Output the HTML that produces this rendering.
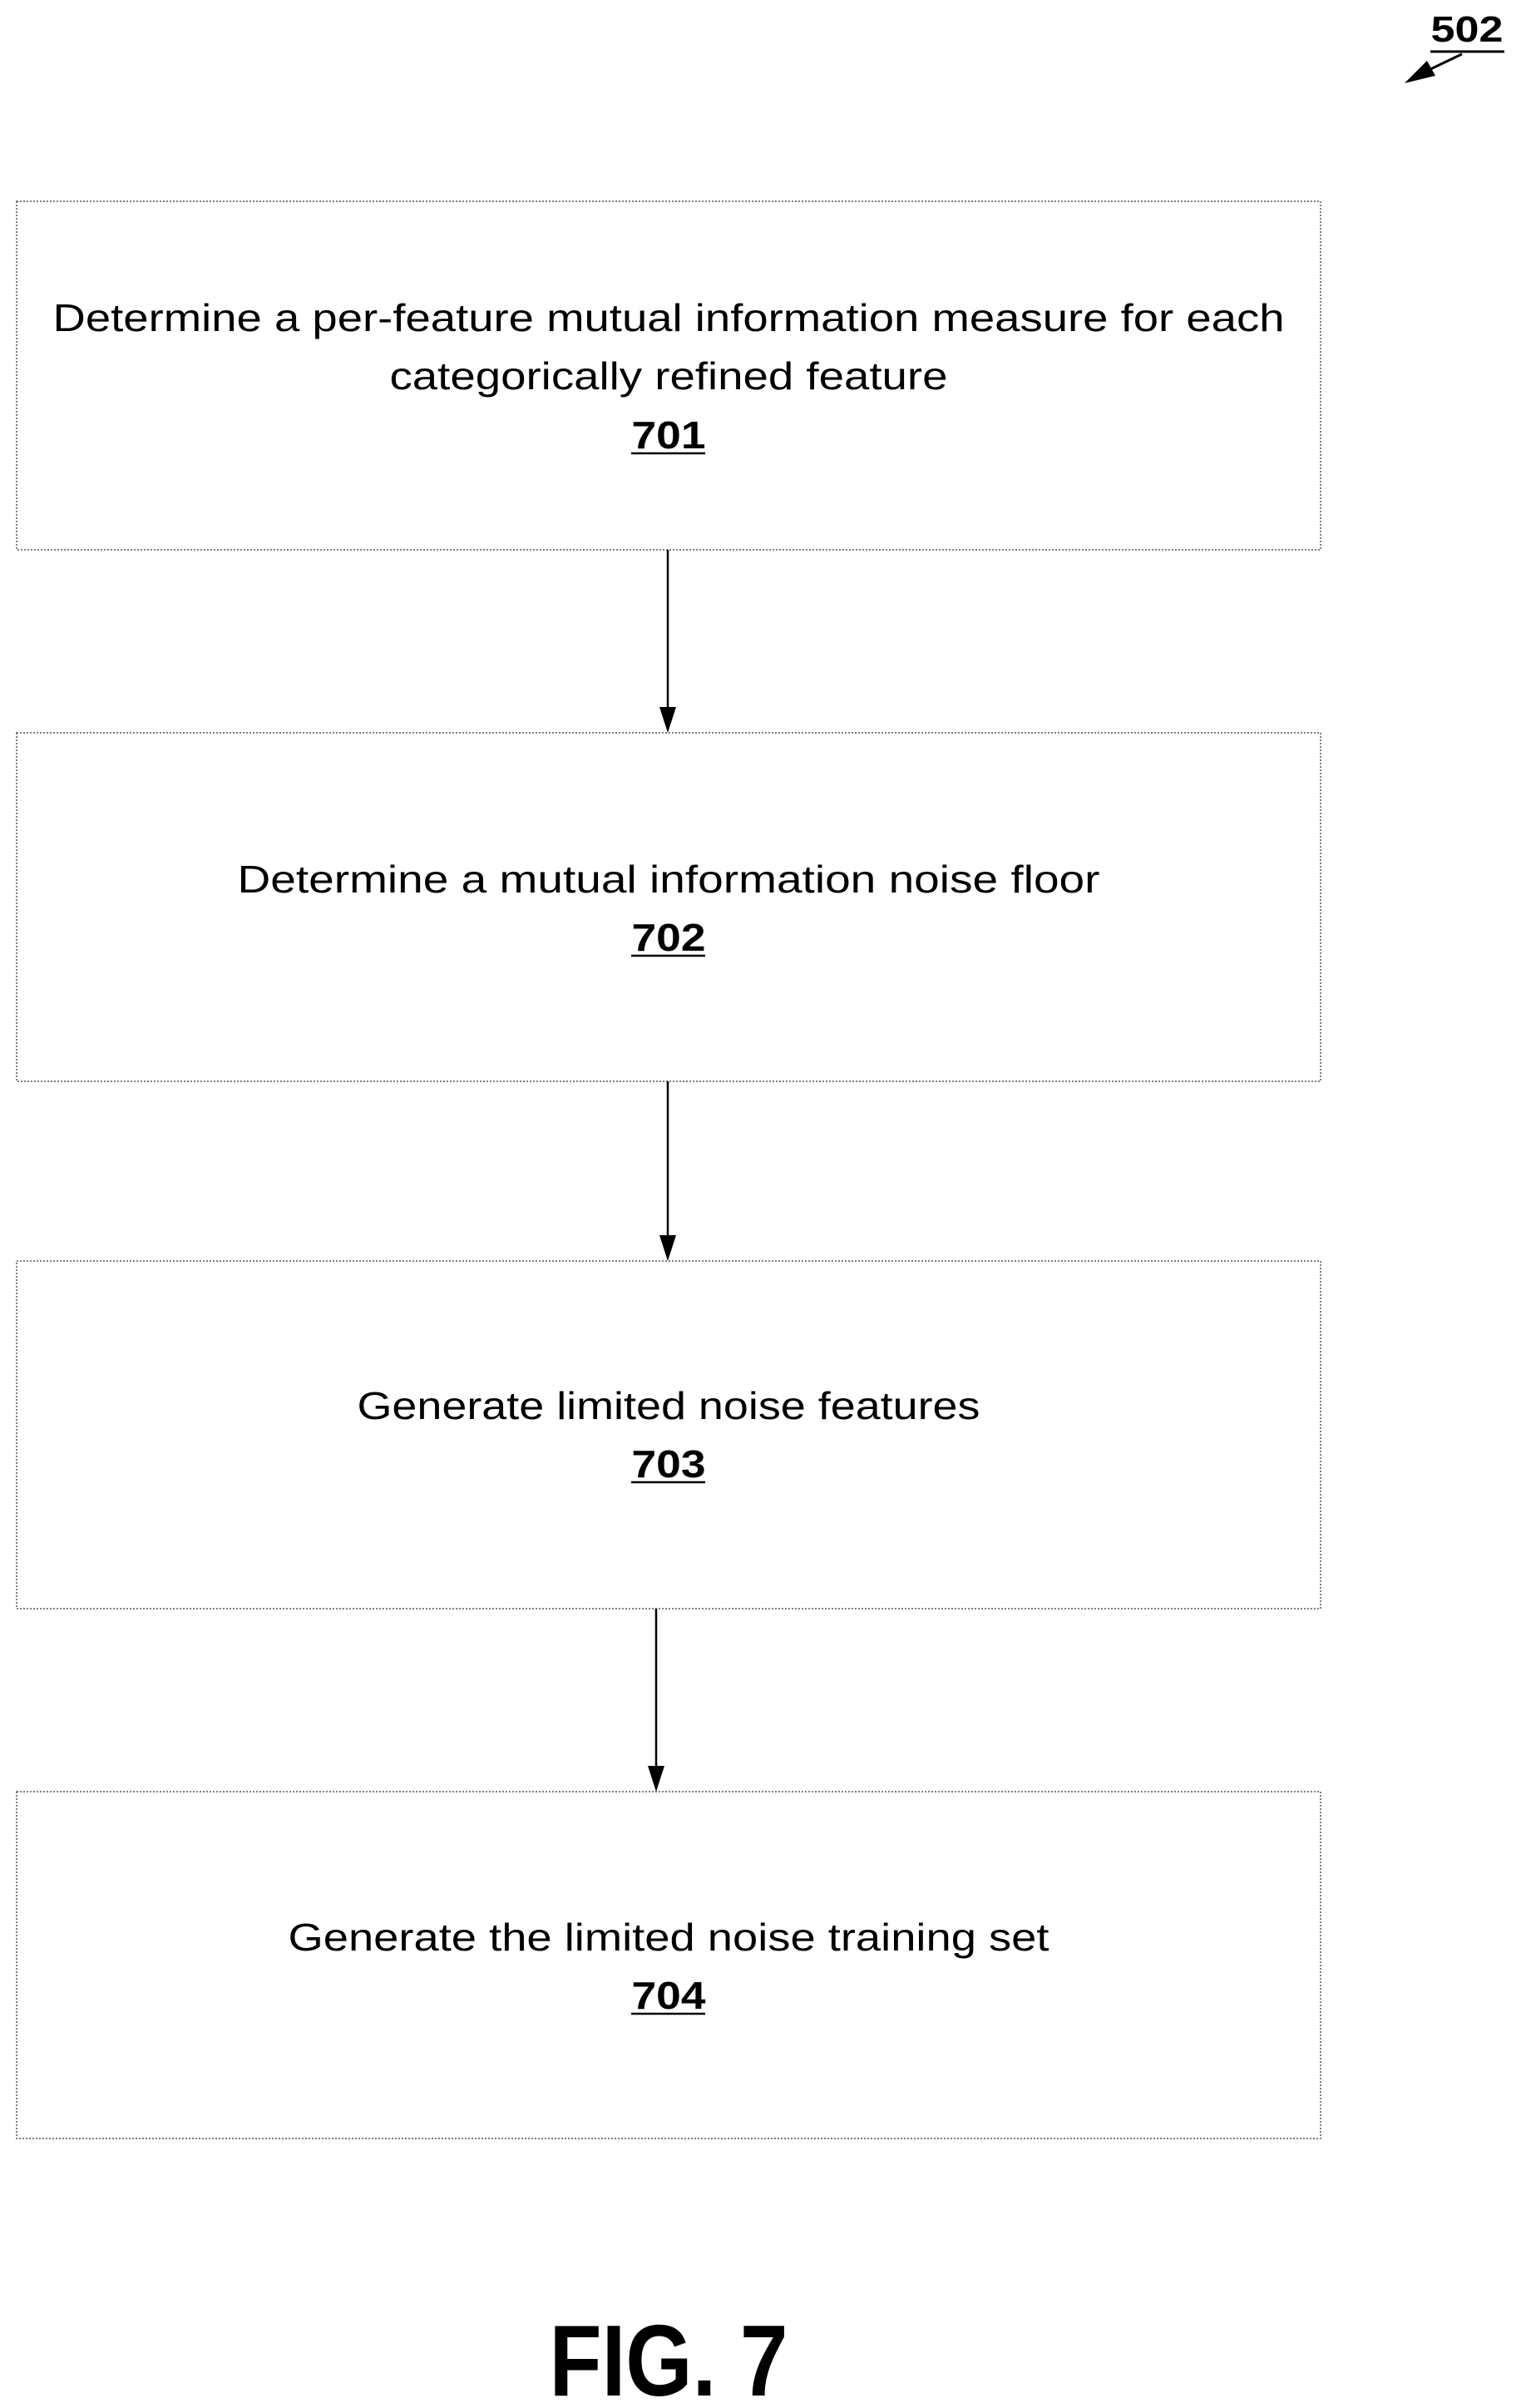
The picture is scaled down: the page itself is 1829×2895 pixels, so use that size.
<!DOCTYPE html>
<html><head><style>html,body{margin:0;padding:0;background:#fff}svg{display:block}</style></head>
<body>
<svg width="1829" height="2895" xmlns="http://www.w3.org/2000/svg" font-family="Liberation Sans, sans-serif">
<g fill="none" stroke="#555" stroke-width="1.5" stroke-dasharray="2,2">
<rect x="20" y="242" width="1568" height="419"/>
<rect x="20" y="881" width="1568" height="419"/>
<rect x="20" y="1516" width="1568" height="418"/>
<rect x="20" y="2154" width="1568" height="417"/>
</g>
<g stroke="#000" stroke-width="2.5">
<line x1="803" y1="661" x2="803" y2="858"/>
<line x1="803" y1="1300" x2="803" y2="1493"/>
<line x1="789" y1="1934" x2="789" y2="2131"/>
</g>
<g fill="#000">
<path d="M793,850 L813,850 L803,881 z"/>
<path d="M793,1485 L813,1485 L803,1516 z"/>
<path d="M779,2123 L799,2123 L789,2154 z"/>
</g>
<g font-size="46" fill="#000" text-anchor="middle" dominant-baseline="central">
<text x="804" y="382" textLength="1481" lengthAdjust="spacingAndGlyphs">Determine a per-feature mutual information measure for each</text>
<text x="804" y="452" textLength="671" lengthAdjust="spacingAndGlyphs">categorically refined feature</text>
<text x="804" y="1057" textLength="1037" lengthAdjust="spacingAndGlyphs">Determine a mutual information noise floor</text>
<text x="804" y="1690" textLength="749" lengthAdjust="spacingAndGlyphs">Generate limited noise features</text>
<text x="804" y="2329" textLength="915" lengthAdjust="spacingAndGlyphs">Generate the limited noise training set</text>
</g>
<g font-size="46" font-weight="bold" fill="#000" text-anchor="middle" dominant-baseline="central">
<text x="804" y="523" textLength="89" lengthAdjust="spacingAndGlyphs">701</text>
<text x="804" y="1127" textLength="89" lengthAdjust="spacingAndGlyphs">702</text>
<text x="804" y="1760" textLength="89" lengthAdjust="spacingAndGlyphs">703</text>
<text x="804" y="2399" textLength="89" lengthAdjust="spacingAndGlyphs">704</text>
</g>
<g stroke="#000" stroke-width="2.5"><line x1="759" y1="545" x2="848" y2="545"/><line x1="759" y1="1149" x2="848" y2="1149"/><line x1="759" y1="1782" x2="848" y2="1782"/><line x1="759" y1="2421" x2="848" y2="2421"/></g>
<text x="1764" y="50" font-size="44" font-weight="bold" text-anchor="middle" textLength="87" lengthAdjust="spacingAndGlyphs">502</text>
<line x1="1720" y1="62" x2="1809" y2="62" stroke="#000" stroke-width="3"/>
<line x1="1758" y1="65" x2="1710" y2="88" stroke="#000" stroke-width="3"/>
<path d="M1689,100 L1716,73 L1726,91 z" fill="#000"/>
<text x="804" y="2880" font-size="122" font-weight="bold" text-anchor="middle" textLength="287" lengthAdjust="spacingAndGlyphs">FIG. 7</text>
</svg>
</body></html>
